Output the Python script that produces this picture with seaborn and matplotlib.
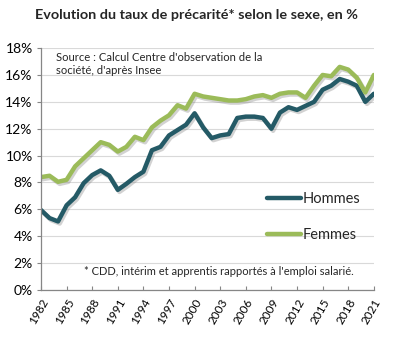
import matplotlib
matplotlib.use("Agg")
import matplotlib.pyplot as plt
import matplotlib.patheffects as pe
import seaborn as sns
import pandas as pd
from matplotlib.lines import Line2D

years = list(range(1982, 2022))
hommes = [5.95, 5.35, 5.1, 6.3, 6.9, 7.95, 8.55, 8.9, 8.5, 7.45, 7.9, 8.4, 8.8, 10.4,
          10.65, 11.5, 11.9, 12.3, 13.15, 12.1, 11.3, 11.5, 11.6, 12.8, 12.9, 12.9,
          12.8, 12.0, 13.2, 13.6, 13.4, 13.7, 14.0, 14.9, 15.2, 15.7, 15.5, 15.2,
          14.0, 14.6]
femmes = [8.4, 8.5, 8.05, 8.2, 9.2, 9.8, 10.4, 11.0, 10.8, 10.3, 10.65, 11.4, 11.15,
          12.1, 12.6, 13.0, 13.75, 13.5, 14.6, 14.4, 14.3, 14.2, 14.1, 14.1, 14.2,
          14.4, 14.5, 14.3, 14.6, 14.7, 14.7, 14.3, 15.2, 16.0, 15.9, 16.6, 16.4,
          15.8, 14.7, 16.0]
series_names = ["Hommes", "Femmes"]
colors = {"Hommes": "#245A66", "Femmes": "#9BBB59"}
title = "Evolution du taux de précarité* selon le sexe, en %"
source = "Source : Calcul Centre d'observation de la\nsociété, d'après Insee"
footnote = "* CDD, intérim et apprentis rapportés à l'emploi salarié."

df = pd.DataFrame({"Année": years * 2,
                   "Taux": hommes + femmes,
                   "Sexe": ["Hommes"] * len(years) + ["Femmes"] * len(years)})

sns.set_style("white")
plt.rcParams['font.family'] = ['Lato', 'DejaVu Sans']

fig = plt.figure(figsize=(3.96, 3.41), dpi=100)
ax = fig.add_axes([0.1035, 0.1496, 0.8405, 0.7094])

sns.lineplot(data=df, x="Année", y="Taux", hue="Sexe", hue_order=series_names,
             palette=colors, linewidth=3.2, ax=ax, legend=False)
for line in ax.get_lines():
    line.set_solid_joinstyle("round")
    line.set_solid_capstyle("round")
    line.set_path_effects([pe.SimpleLineShadow(offset=(1.2, -1.5), shadow_color="#7f7f7f", alpha=0.35),
                           pe.Normal()])

ax.set_xlim(1982, 2021)
ax.set_ylim(0, 18)
ax.set_yticks(range(0, 19, 2))
ax.set_yticklabels([f"{v}%" for v in range(0, 19, 2)], fontsize=10)
ax.set_xticks(range(1982, 2022, 3))
ax.set_xticklabels([str(y) for y in range(1982, 2022, 3)], rotation=60,
                   ha="right", va="top", rotation_mode="anchor", fontsize=8.5)
ax.set_xlabel("")
ax.set_ylabel("")
ax.yaxis.grid(True, color="#D9D9D9", linewidth=0.8)
ax.set_axisbelow(True)
for s in ["top", "right"]:
    ax.spines[s].set_visible(False)
for s in ["left", "bottom"]:
    ax.spines[s].set_color("#868686")
    ax.spines[s].set_linewidth(0.9)
ax.tick_params(axis="y", which="both", left=True, length=3, direction="out",
               color="#868686", pad=3, labelcolor="#000000")
ax.tick_params(axis="x", which="both", bottom=True, length=3, direction="in",
               color="#868686", pad=5, labelcolor="#000000")

fig.text(0.497, 0.955, title, ha="center", va="center", fontsize=10.4, fontweight="bold")
ax.text(0.045, 0.985, source, transform=ax.transAxes, ha="left", va="top",
        fontsize=8.1, linespacing=1.2)
ax.text(0.13, 0.075, footnote, transform=ax.transAxes, ha="left", va="center",
        fontsize=8.0)

handles = [Line2D([], [], color=colors[n], linewidth=3.2, solid_capstyle="round") for n in series_names]
ax.legend(handles, series_names, loc="center left", bbox_to_anchor=(0.64, 0.30),
          frameon=False, fontsize=10.5, handlelength=2.3, handletextpad=0.15,
          labelspacing=1.5)

fig.savefig("out.png", dpi=100)
